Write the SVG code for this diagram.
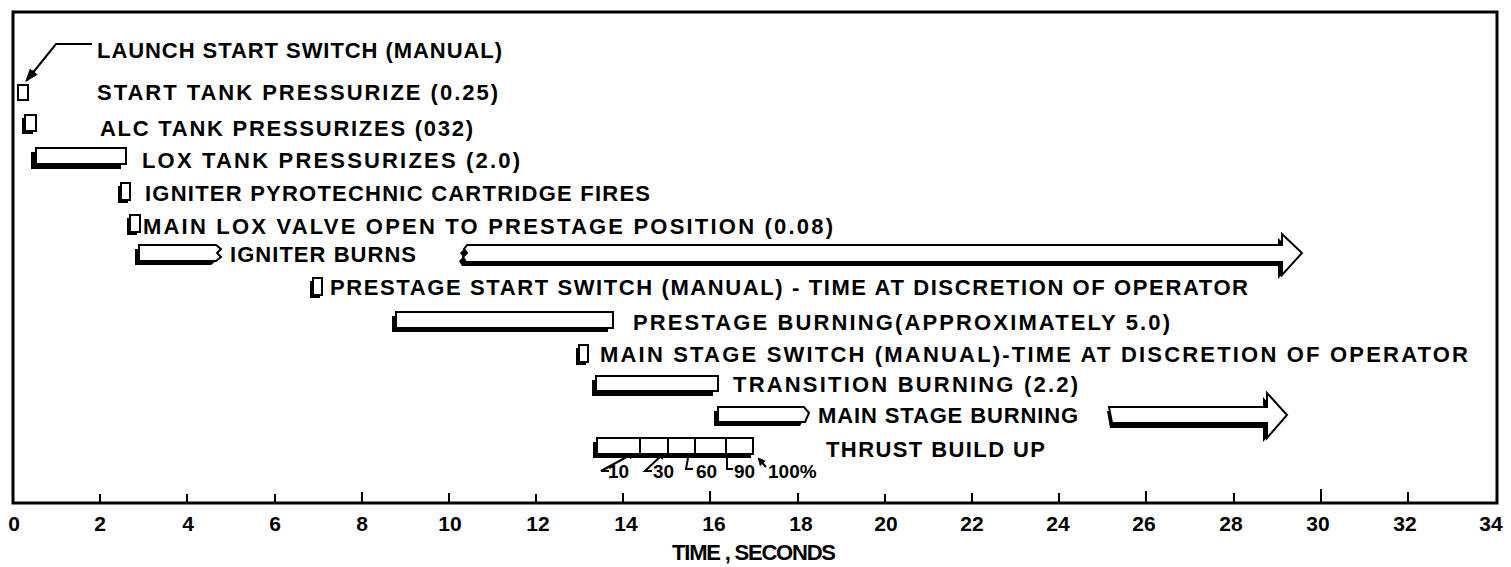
<svg xmlns="http://www.w3.org/2000/svg" width="1511" height="567" viewBox="0 0 1511 567">
<style>
.t{font-family:"Liberation Sans",Arial,sans-serif;font-weight:bold;font-size:22px;fill:#000}
.ax{font-family:"Liberation Sans",Arial,sans-serif;font-weight:bold;font-size:21px;fill:#000;text-anchor:middle}
.sm{font-family:"Liberation Sans",Arial,sans-serif;font-weight:bold;font-size:19px;fill:#000}
.bar{fill:#fff;stroke:#000;stroke-width:2}
.sh{fill:#000}
.ln{fill:none;stroke:#000;stroke-width:2}
.fr{fill:none;stroke:#000;stroke-width:3}
</style>
<defs>
<marker id="ah" markerWidth="8" markerHeight="8" refX="6" refY="4" orient="auto" markerUnits="userSpaceOnUse">
<path d="M0,0 L8,4 L0,8 Z" fill="#000"/>
</marker>
<marker id="ahb" markerWidth="14" markerHeight="10" refX="11" refY="5" orient="auto" markerUnits="userSpaceOnUse">
<path d="M0,0 L14,5 L0,10 Z" fill="#000"/>
</marker>
</defs>
<rect width="1511" height="567" fill="#fff"/>
<g id="frame">
<path class="fr" d="M13,12 H1497 V503 H13 Z"/>
<path class="ln" d="M100,503 v-9 M187,503 v-9 M275,503 v-9 M362,503 v-11 M449,503 v-10 M536,503 v-9 M623,503 v-10 M710,503 v-12 M798,503 v-10 M885,503 v-9 M972,503 v-10 M1059,503 v-10 M1146,503 v-12 M1234,503 v-10 M1321,503 v-14 M1408,503 v-11"/>
<text class="ax" x="14" y="531">0</text>
<text class="ax" x="100" y="531">2</text>
<text class="ax" x="188" y="531">4</text>
<text class="ax" x="275" y="531">6</text>
<text class="ax" x="362" y="531">8</text>
<text class="ax" x="450" y="531">10</text>
<text class="ax" x="538" y="531">12</text>
<text class="ax" x="626" y="531">14</text>
<text class="ax" x="714" y="531">16</text>
<text class="ax" x="801" y="531">18</text>
<text class="ax" x="886" y="531">20</text>
<text class="ax" x="972" y="531">22</text>
<text class="ax" x="1058" y="531">24</text>
<text class="ax" x="1144" y="531">26</text>
<text class="ax" x="1231" y="531">28</text>
<text class="ax" x="1318" y="531">30</text>
<text class="ax" x="1405" y="531">32</text>
<text class="ax" x="1491" y="531">34</text>
<text class="t" x="672" y="560" textLength="164">TIME , SECONDS</text>
</g>
<g id="connectors">
<polyline class="ln" points="92,44 56,44 27,80" marker-end="url(#ahb)"/>
<polyline class="ln" points="609,471 601,471 634,453" marker-end="url(#ah)"/>
<polyline class="ln" points="652,471 645,471 664,453" marker-end="url(#ah)"/>
<polyline class="ln" points="693,469 686,469 688,458"/>
<polyline class="ln" points="733,469 727,469 727,458"/>
<polyline class="ln" points="766,467 759,459" marker-end="url(#ah)"/>
</g>
<g id="n1"><text class="t" x="97" y="58" textLength="405">LAUNCH START SWITCH (MANUAL)</text></g>
<g id="n2"><rect class="bar" x="18" y="85" width="10" height="15"/>
<text class="t" x="97" y="100" textLength="401">START TANK  PRESSURIZE (0.25)</text></g>
<g id="n3"><rect class="sh" x="22" y="118" width="11" height="16"/><rect class="bar" x="25" y="115" width="11" height="16"/>
<text class="t" x="100" y="136" textLength="373">ALC TANK PRESSURIZES (032)</text></g>
<g id="n4"><rect class="sh" x="31" y="152" width="90" height="17"/><rect class="bar" x="36" y="148" width="90" height="16"/>
<text class="t" x="142" y="168" textLength="378">LOX TANK PRESSURIZES (2.0)</text></g>
<g id="n5"><rect class="sh" x="118" y="186" width="10" height="17"/><rect class="bar" x="121" y="183" width="9" height="17"/>
<text class="t" x="145" y="201" textLength="505">IGNITER PYROTECHNIC CARTRIDGE FIRES</text></g>
<g id="n6"><rect class="sh" x="127" y="218" width="10" height="17"/><rect class="bar" x="130" y="215" width="10" height="17"/>
<text class="t" x="143" y="234" textLength="690">MAIN LOX VALVE OPEN TO PRESTAGE POSITION (0.08)</text></g>
<g id="n7">
<path class="sh" d="M135,249 H211 L216,253 L212,257 L216,261 L211,265 H135 Z"/>
<path class="bar" d="M139,245 H216 L221,249 L217,253 L221,257 L216,261 H139 Z"/>
<text class="t" x="230" y="262" textLength="186">IGNITER BURNS</text>
<path class="sh" d="M464,249 L460,253 L463,257 L459,261 L462,266 H1278 V279 L1298,257 L1278,238 V249 Z"/>
<path class="bar" d="M467,245 L464,249 L467,253 L463,257 L466,262 H1282 V275 L1302,253 L1282,234 V245 Z"/>
</g>
<g id="n8"><rect class="sh" x="310" y="281" width="10" height="17"/><rect class="bar" x="313" y="278" width="9" height="17"/>
<text class="t" x="330" y="295" textLength="918">PRESTAGE START SWITCH (MANUAL) - TIME AT DISCRETION OF OPERATOR</text></g>
<g id="n9"><rect class="sh" x="392" y="316" width="216" height="16"/><rect class="bar" x="396" y="312" width="217" height="16"/>
<text class="t" x="633" y="330" textLength="537">PRESTAGE BURNING(APPROXIMATELY 5.0)</text></g>
<g id="n10"><rect class="sh" x="576" y="348" width="10" height="17"/><rect class="bar" x="579" y="345" width="9" height="17"/>
<text class="t" x="600" y="362" textLength="868">MAIN STAGE SWITCH (MANUAL)-TIME AT DISCRETION OF OPERATOR</text></g>
<g id="n11"><rect class="sh" x="592" y="380" width="121" height="16"/><rect class="bar" x="596" y="376" width="122" height="15"/>
<text class="t" x="733" y="392" textLength="345">TRANSITION BURNING (2.2)</text></g>
<g id="n12">
<path class="sh" d="M714,411 H800 L805,417 L800,426 H714 Z"/>
<path class="bar" d="M718,407 H804 L809,413 L805,422 H718 Z"/>
<text class="t" x="818" y="423" textLength="260">MAIN STAGE BURNING</text>
<path class="sh" d="M1107,411 L1110,428 H1263 V442 L1283,419 L1263,397 V411 Z"/>
<path class="bar" d="M1109,407 L1112,423 H1267 V438 L1287,415 L1267,393 V407 Z"/>
</g>
<g id="n13">
<rect class="sh" x="593" y="442" width="158" height="16"/>
<rect class="bar" x="597" y="438" width="156" height="16"/>
<path class="ln" d="M640,438 v16 M668,438 v16 M695,438 v16 M726,438 v16"/>
<text class="t" x="826" y="457" textLength="219">THRUST BUILD UP</text>
<text class="sm" x="608" y="478">10</text>
<text class="sm" x="653" y="478">30</text>
<text class="sm" x="696" y="478">60</text>
<text class="sm" x="734" y="478">90</text>
<text class="sm" x="768" y="478">100%</text>
</g>
</svg>
